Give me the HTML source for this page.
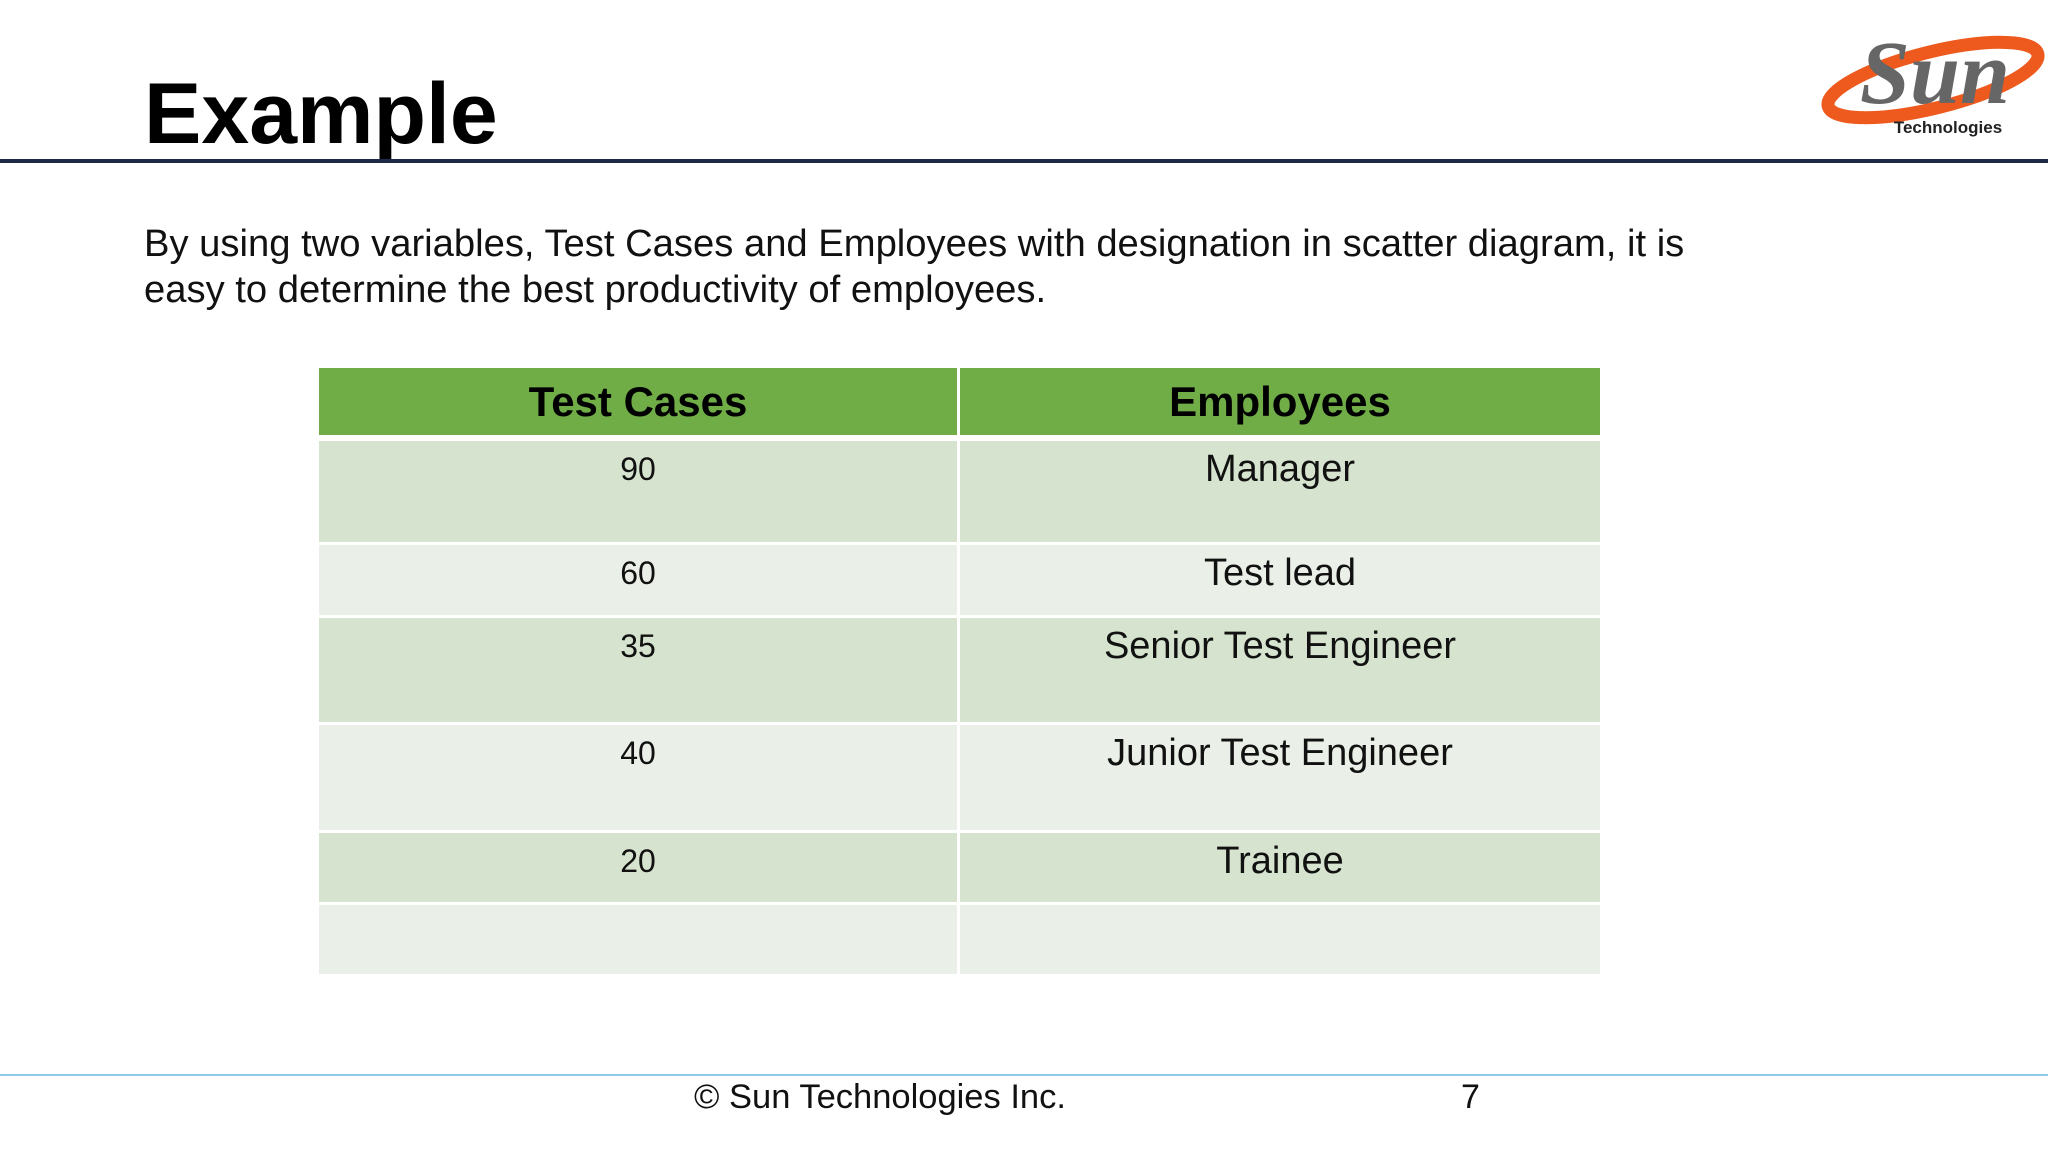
<!DOCTYPE html>
<html><head><meta charset="utf-8"><style>
html,body{margin:0;padding:0;background:#fff;}
body{width:2048px;height:1152px;position:relative;overflow:hidden;font-family:"Liberation Sans",sans-serif;}
.abs{position:absolute;}
#title{left:144px;top:64px;font-size:86px;font-weight:bold;color:#000;line-height:100px;}
#rule{left:0;top:159px;width:2048px;height:4px;background:#1f2a48;}
#intro{left:144px;top:221px;font-size:38.2px;line-height:46px;color:#111;width:1800px;}
table{position:absolute;left:319px;top:368px;border-collapse:collapse;width:1284px;}
td,th{padding:0;text-align:center;vertical-align:top;border-right:3px solid #fff;}
th{background:#70ad47;font-size:42px;font-weight:bold;height:67px;vertical-align:middle;color:#000;border-bottom:6px solid #fff;}
tr.o td{background:#d6e4cf;}
tr.e td{background:#eaf0e7;}
td{border-bottom:3px solid #fff;}
td.n{font-size:32px;padding-top:10px;color:#111;}
td.t{font-size:38px;padding-top:7px;color:#111;}
#footline{left:0;top:1074px;width:2048px;height:2px;background:#8ec9e8;}
#foot{left:694px;top:1078px;font-size:34.5px;color:#111;}
#page{left:1461px;top:1078px;font-size:34px;color:#111;}
</style></head><body>
<div class="abs" id="title">Example</div>
<div class="abs" id="rule"></div>
<svg class="abs" style="left:1815px;top:15px" width="230" height="130">
<ellipse cx="118" cy="65" rx="108" ry="28" transform="rotate(-14 118 65)" fill="none" stroke="#ee5a1e" stroke-width="13"/>
<text x="120" y="88" font-family="Liberation Serif,serif" font-size="90" font-weight="bold" fill="#666" text-anchor="middle" font-style="italic">Sun</text>
<text x="133" y="118" font-family="Liberation Sans,sans-serif" font-size="17" font-weight="bold" fill="#222" text-anchor="middle">Technologies</text>
</svg>
<div class="abs" id="intro">By using two variables, Test Cases and Employees with designation in scatter diagram, it is<br>easy to determine the best productivity of employees.</div>
<table>
<tr><th style="width:638px">Test Cases</th><th>Employees</th></tr>
<tr class="o" style="height:105px"><td class="n">90</td><td class="t">Manager</td></tr>
<tr class="e" style="height:73px"><td class="n">60</td><td class="t">Test lead</td></tr>
<tr class="o" style="height:107px"><td class="n">35</td><td class="t">Senior Test Engineer</td></tr>
<tr class="e" style="height:108px"><td class="n">40</td><td class="t">Junior Test Engineer</td></tr>
<tr class="o" style="height:72px"><td class="n">20</td><td class="t">Trainee</td></tr>
<tr class="e" style="height:72px"><td></td><td></td></tr>
</table>
<div class="abs" id="footline"></div>
<div class="abs" id="foot">© Sun Technologies Inc.</div>
<div class="abs" id="page">7</div>
</body></html>
